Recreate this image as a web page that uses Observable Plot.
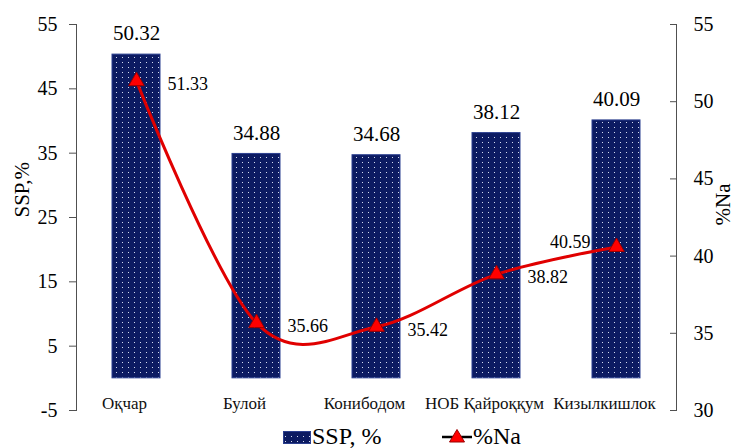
<!DOCTYPE html>
<html><head><meta charset="utf-8">
<script src="https://cdn.jsdelivr.net/npm/d3@7"></script>
<script src="https://cdn.jsdelivr.net/npm/@observablehq/plot@0.6"></script>
<style>
body{margin:0;background:#fff;font-family:'Liberation Serif',serif;}
#chart svg{display:block;}
#legend{position:relative;height:24px;width:734px;font-size:24px;line-height:24px;color:#000;overflow:hidden;font-family:'Liberation Serif',serif;}
#legend span{position:absolute;top:0;white-space:nowrap;font-family:'Liberation Serif',serif;}
#legend svg{position:absolute;top:0;}
</style></head><body>
<div id="chart"></div>
<div id="legend">
  <svg style="left:283px" width="28" height="24"><rect x="0.5" y="7.5" width="27" height="12" fill="url(#dots)" stroke="#2b3f8f"/></svg>
  <span style="left:312px">SSP, %</span>
  <svg style="left:441px" width="32" height="24"><line x1="1" y1="13" x2="31" y2="13" stroke="#000" stroke-width="2.5"/><path d="M16,5.5 L23.5,18 L8.5,18 Z" fill="#ff0000" stroke="#990000" stroke-width="1"/></svg>
  <span style="left:473px">%Na</span>
</div>
<script>
const categories = ["Оқчар", "Булой", "Конибодом", "НОБ Қайроққум", "Кизылкишлок"];
const ssp = [50.32, 34.88, 34.68, 38.12, 40.09];
const na = [51.33, 35.66, 35.42, 38.82, 40.59];
const leftTicks = [-5, 5, 15, 25, 35, 45, 55];
const rightTicks = [30, 35, 40, 45, 50, 55];

// map right-axis (%Na, 30..55) onto left-axis units (-5..55)
const toLeft = v => -5 + (v - 30) * 60 / 25;
const fromLeft = v => 30 + (v + 5) * 25 / 60;

const data = categories.map((c, i) => ({cat: c, ssp: ssp[i], na: na[i], naY: toLeft(na[i])}));

const axisColor = "#505050";
const serif = "Liberation Serif";

const plot = Plot.plot({
  width: 734,
  height: 424,
  marginLeft: 76,
  marginRight: 58,
  marginTop: 24,
  marginBottom: 14,
  x: {domain: categories, paddingInner: 0.6, paddingOuter: 0.3, axis: null},
  y: {domain: [-5, 55], axis: null},
  style: {color: "#000", background: "#fff", overflow: "visible", fontFamily: serif},
  marks: [
    Plot.barY(data, {x: "cat", y: "ssp", fill: "url(#dots)", stroke: "#2b3f8f", strokeWidth: 1}),
    Plot.frame({anchor: "left", stroke: axisColor}),
    Plot.frame({anchor: "right", stroke: axisColor}),
    Plot.axisY(leftTicks, {anchor: "left", tickSize: 7, tickPadding: 12, fontSize: 20, fontFamily: serif, stroke: axisColor, tickFormat: d => String(d)}),
    Plot.axisY(rightTicks.map(toLeft), {anchor: "right", tickSize: 7, dx: -7, text: null, stroke: axisColor}),
    Plot.axisY(rightTicks.map(toLeft), {anchor: "right", tickSize: 0, tickPadding: 17, fontSize: 20, fontFamily: serif, tickFormat: v => String(Math.round(fromLeft(v)))}),
    Plot.text(["SSP,%"], {frameAnchor: "left", dx: -54, rotate: -90, fontSize: 21, fontFamily: serif}),
    Plot.text(["%Na"], {frameAnchor: "right", dx: 47, dy: -34, rotate: -90, fontSize: 21, fontFamily: serif}),
    Plot.text(data, {x: "cat", y: "ssp", text: d => d.ssp.toFixed(2), dy: -21, fontSize: 21, fontFamily: serif}),
    Plot.text(data, {x: "cat", y: () => 0, text: "cat", dx: -12, dy: 25, fontSize: 17, fontFamily: serif, fill: "#111"}),
    Plot.line(data, {x: "cat", y: "naY", curve: "cardinal", tension: 0, stroke: "#e00000", strokeWidth: 3}),
    Plot.dot(data, {x: "cat", y: "naY", symbol: "triangle", r: 5.8, fill: "#ff0000", stroke: "#990000", strokeWidth: 1}),
    Plot.text(data.slice(0, 4), {x: "cat", y: "naY", text: d => d.na.toFixed(2), textAnchor: "start", dx: 31, dy: 3, fontSize: 18, fontFamily: serif}),
    Plot.text(data.slice(4), {x: "cat", y: "naY", text: d => d.na.toFixed(2), textAnchor: "end", dx: -26, dy: -5, fontSize: 18, fontFamily: serif})
  ]
});

const ns = "http://www.w3.org/2000/svg";
const defs = document.createElementNS(ns, "defs");
defs.innerHTML = '<pattern id="dots" width="6" height="5" patternUnits="userSpaceOnUse"><rect width="6" height="5" fill="#0c1b62"/><rect x="2" y="2" width="1" height="1" fill="#d5dcf0"/></pattern>';
plot.insertBefore(defs, plot.firstChild);
document.getElementById("chart").appendChild(plot);
</script>
</body></html>
